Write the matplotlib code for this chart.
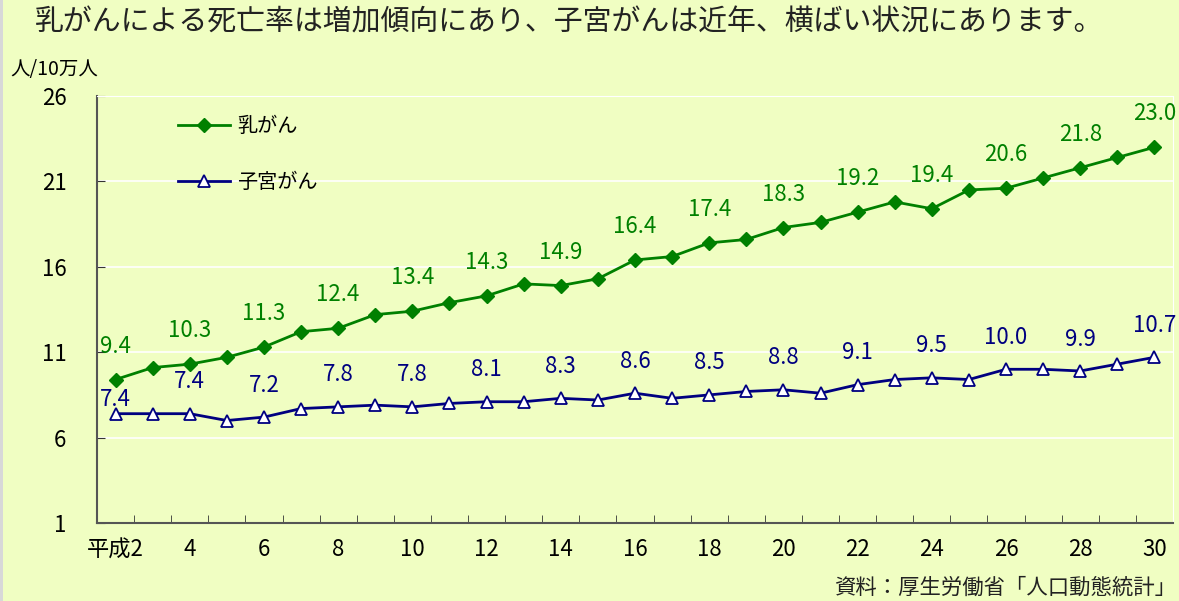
import numpy as np
import matplotlib
matplotlib.use('Agg')
import matplotlib.pyplot as plt
from matplotlib.patches import Rectangle

plt.rcParams['font.family'] = ['Noto Sans CJK JP', 'DejaVu Sans']

# --- データ（平成2年〜30年、人口10万人あたり死亡率） ---
NENDO = list(range(2, 31))
NYUGAN = [9.4, 10.1, 10.3, 10.7, 11.3, 12.2, 12.4, 13.2, 13.4, 13.9,
          14.3, 15.0, 14.9, 15.3, 16.4, 16.6, 17.4, 17.6, 18.3, 18.6,
          19.2, 19.8, 19.4, 20.5, 20.6, 21.2, 21.8, 22.4, 23.0]
SHIKYUGAN = [7.4, 7.4, 7.4, 7.0, 7.2, 7.7, 7.8, 7.9, 7.8, 8.0,
             8.1, 8.1, 8.3, 8.2, 8.6, 8.3, 8.5, 8.7, 8.8, 8.6,
             9.1, 9.4, 9.5, 9.4, 10.0, 10.0, 9.9, 10.3, 10.7]
ETIQUETAS_X = ['平成2'] + [str(n) for n in range(4, 31, 2)]
TICKS_Y = [1, 6, 11, 16, 21, 26]

FONDO = '#F0FEC2'
VERDE = '#008000'
AZUL = '#000080'

# desplazamiento vertical (pt) de las etiquetas azules; la primera va más baja
DESP_AZUL = {2: 10}

fig = plt.figure(figsize=(11.79, 6.01), dpi=100, facecolor=FONDO)
fig.patches.append(Rectangle((0, 0), 3 / 1179, 1, transform=fig.transFigure,
                             facecolor='#D8D8D8', edgecolor='none'))
ax = fig.add_axes([97 / 1179, 1 - 523 / 601, 1076 / 1179, 427 / 601])
ax.set_facecolor(FONDO)

x = np.array(NENDO)
ax.plot(x, NYUGAN, '-', color=VERDE, lw=2.0, marker='D', ms=7,
        mfc=VERDE, mec=VERDE, label='乳がん', zorder=3)
ax.plot(x, SHIKYUGAN, '-', color=AZUL, lw=2.0, marker='^', ms=9,
        mfc='white', mec=AZUL, mew=1.3, label='子宮がん', zorder=3)

# Etiquetas de valor cada dos años
for xi, v in zip(x, NYUGAN):
    if xi % 2 == 0:
        ax.annotate(f'{v:.1f}', (xi, v), xytext=(0, 24), textcoords='offset points',
                    ha='center', va='center', color=VERDE, fontsize=16)
for xi, v in zip(x, SHIKYUGAN):
    if xi % 2 == 0:
        ax.annotate(f'{v:.1f}', (xi, v), xytext=(0, DESP_AZUL.get(xi, 23)),
                    textcoords='offset points', ha='center', va='center',
                    color=AZUL, fontsize=16)

ax.set_xlim(NENDO[0] - 0.5, NENDO[-1] + 0.5)
ax.set_ylim(TICKS_Y[0], TICKS_Y[-1])
ax.set_yticks(TICKS_Y)
ax.set_yticklabels([str(t) for t in TICKS_Y], fontsize=16)
ax.set_xticks(range(2, 31, 2))
ax.set_xticklabels(ETIQUETAS_X, fontsize=16)
ax.set_xticks(np.arange(NENDO[0] - 0.5, NENDO[-1] + 1), minor=True)
ax.tick_params(axis='x', which='major', length=0, pad=11)
ax.tick_params(axis='x', which='minor', direction='in', length=6, color='#333333')
ax.tick_params(axis='y', direction='in', length=6, color='#333333', pad=22)
ax.grid(axis='y', color='white', lw=1.2)
ax.set_axisbelow(True)

for lado in ['top', 'right']:
    ax.spines[lado].set_color('white')
for lado in ['left', 'bottom']:
    ax.spines[lado].set_color('#555555')
    ax.spines[lado].set_linewidth(1.5)

ax.legend(loc='upper left', bbox_to_anchor=(0.075, 0.952), frameon=False,
          fontsize=14.5, handlelength=2.6, handletextpad=0.35, labelspacing=1.72,
          borderpad=0, borderaxespad=0)

fig.text(35 / 1179, 1 - 23 / 601, '乳がんによる死亡率は増加傾向にあり、子宮がんは近年、横ばい状況にあります。',
         fontsize=20.8, va='center', ha='left', color='#222222')
fig.text(10 / 1179, 1 - 70 / 601, '人/10万人', fontsize=14, va='center', ha='left')
fig.text(1176 / 1179, 1 - 588 / 601, '資料：厚生労働省「人口動態統計」', fontsize=15.4,
         va='center', ha='right', color='#222222')

fig.savefig('out.png', dpi=100, facecolor=FONDO)
